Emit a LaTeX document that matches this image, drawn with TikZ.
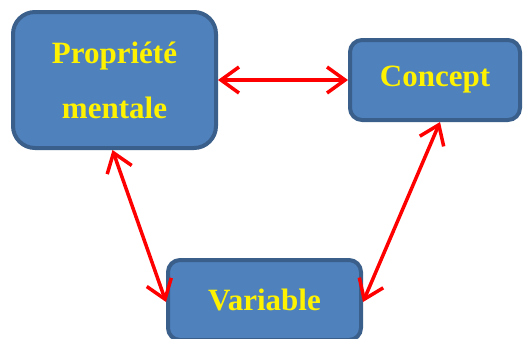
\documentclass[tikz,border=0pt]{standalone}
\usepackage{fontspec}
\setmainfont{Liberation Serif}
\usetikzlibrary{arrows.meta}
\definecolor{boxfill}{HTML}{4F81BD}
\definecolor{boxline}{HTML}{3A5F8B}
\begin{document}
\begin{tikzpicture}[x=1pt, y=-1pt,
    bloc/.style = {draw=boxline, fill=boxfill, line width=4pt, rounded corners=12pt,
      text=yellow, font=\bfseries\fontsize{31}{55}\selectfont, align=center,
      inner sep=0pt},
    lien/.style = {draw=red, line width=3.5pt, line cap=round,
      {Straight Barb[length=18pt,width=26pt]}-{Straight Barb[length=18pt,width=26pt]}}]
  \useasboundingbox (0,0) rectangle (524,338);
  \node[bloc, rounded corners=22pt, minimum width=203pt, minimum height=136pt]
    (prop) at (114.5,80) {Propriété\\mentale};
  \node[bloc, minimum width=170pt, minimum height=80pt] (concept) at (435,80) {Concept};
  \node[bloc, minimum width=193pt, minimum height=80pt] (var) at (264.5,300) {Variable};
  \draw[lien] (prop.east) -- (concept.west);
  \draw[lien] ([xshift=-2pt]prop.south) -- ([yshift=-2pt]var.west);
  \draw[lien] ([xshift=5pt]concept.south) -- ([yshift=-2pt]var.east);
\end{tikzpicture}
\end{document}
